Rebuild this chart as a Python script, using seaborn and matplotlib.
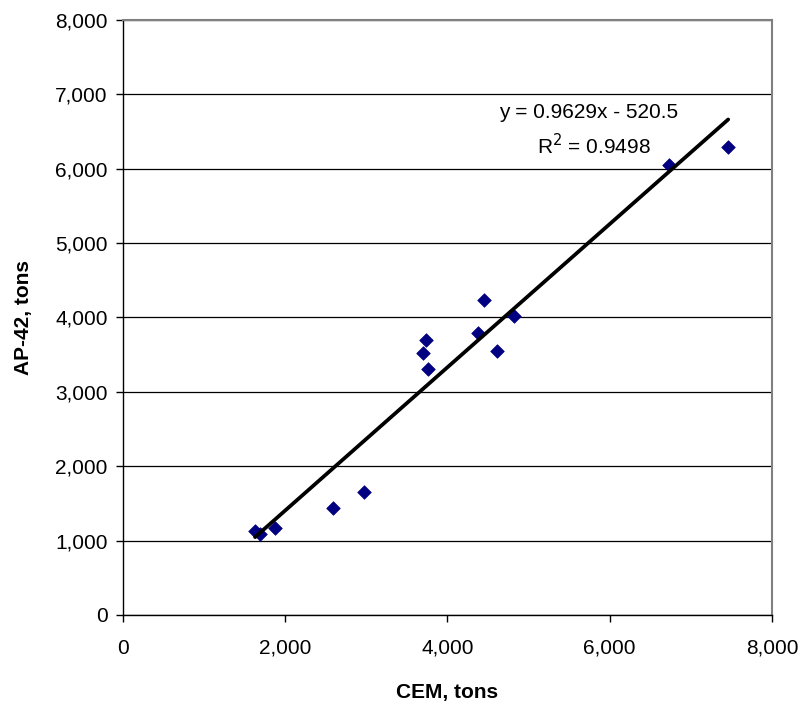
import matplotlib
matplotlib.use("Agg")
import matplotlib.pyplot as plt
import seaborn as sns
import numpy as np
import pandas as pd
from matplotlib.ticker import FuncFormatter, MultipleLocator

cem_tons = [1628, 1689, 1874, 2589, 2972, 3699, 3736, 3761, 4377, 4451, 4612, 4821, 6732, 7460]
ap42_tons = [1129, 1089, 1169, 1438, 1653, 3522, 3696, 3306, 3790, 4234, 3548, 4019, 6048, 6290]
slope = 0.9629
intercept = -520.5
r_squared = 0.9498

sns.set_theme(style="white")
plt.rcParams['font.family'] = ['Liberation Sans', 'DejaVu Sans']
plt.rcParams['text.color'] = 'black'
plt.rcParams['axes.labelcolor'] = 'black'
plt.rcParams['xtick.color'] = 'black'
plt.rcParams['ytick.color'] = 'black'

df = pd.DataFrame({"CEM": cem_tons, "AP42": ap42_tons})
x_line = np.array([min(cem_tons), max(cem_tons)])
line_df = pd.DataFrame({"x": x_line, "y": slope * x_line + intercept})

fig = plt.figure(figsize=(8.05, 7.05), dpi=100)
ax = fig.add_axes([0.1528, 0.1277, 0.8062, 0.8439])

ax.set_xlim(0, 8000)
ax.set_ylim(0, 8000)
ax.yaxis.set_major_locator(MultipleLocator(1000))
ax.xaxis.set_major_locator(MultipleLocator(2000))
ax.grid(axis='y', color='black', linewidth=0.9)
ax.grid(axis='x', visible=False)
ax.set_axisbelow(True)

sns.scatterplot(data=df, x="CEM", y="AP42", marker="D", s=48, color="#000080",
                edgecolor="#000080", linewidth=0.5, ax=ax, zorder=3)
sns.lineplot(data=line_df, x="x", y="y", color="black", linewidth=2.7, ax=ax, zorder=4)

fmt = FuncFormatter(lambda v, p: f"{int(v):,}")
ax.xaxis.set_major_formatter(fmt)
ax.yaxis.set_major_formatter(fmt)

for s in ['left', 'bottom']:
    ax.spines[s].set_color('black')
    ax.spines[s].set_linewidth(1.0)
for s in ['top', 'right']:
    ax.spines[s].set_color('#808080')
    ax.spines[s].set_linewidth(1.5)

ax.tick_params(axis='both', which='major', direction='out', length=5, width=1,
               color='black', labelcolor='black', labelsize=15, left=True, bottom=True, pad=6)
ax.tick_params(axis='x', pad=12)

ax.set_xlabel("CEM, tons", fontsize=15, fontweight='bold', labelpad=18, color='black')
ax.set_ylabel("AP-42, tons", fontsize=15, fontweight='bold', labelpad=16, color='black')

ax.text(5733, 6761, f"y = {slope}x - {abs(intercept)}", fontsize=15, ha='center', va='center', color='black')
ax.text(5810, 6317, f"R$^2$ = {r_squared}", fontsize=15, ha='center', va='center', color='black')

fig.savefig("out.png", dpi=100, facecolor='white')
